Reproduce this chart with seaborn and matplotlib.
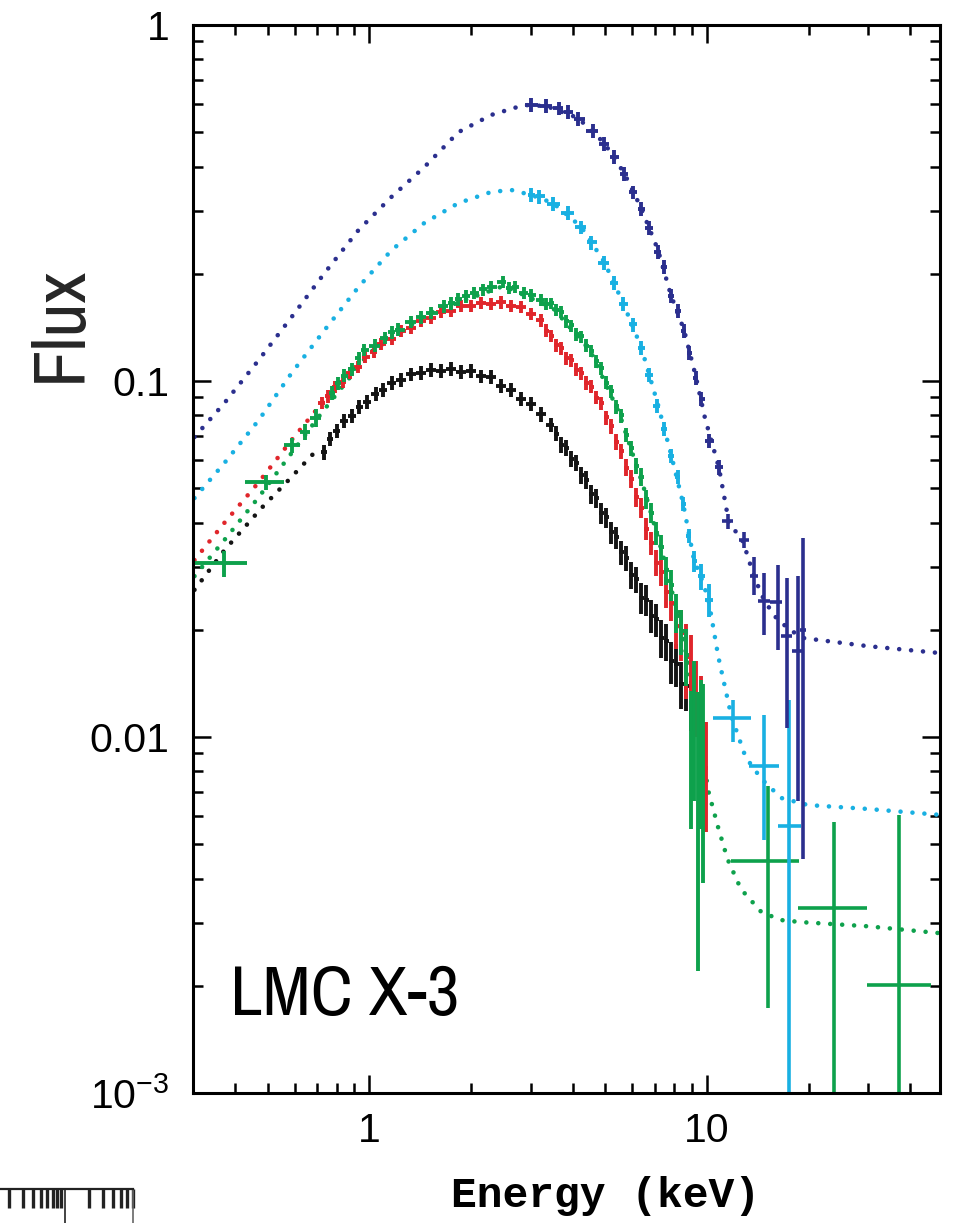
import numpy as np
import matplotlib
matplotlib.use("Agg")
import matplotlib.pyplot as plt
from matplotlib import font_manager
from matplotlib.ticker import FixedLocator, FixedFormatter, LogLocator, NullFormatter, NullLocator
import seaborn as sns

# ==========================================
# 1. MODEL CURVES (dotted lines)
# ==========================================
navy_model_E = [0.303, 0.372, 0.470, 0.588, 0.736, 0.928, 1.162, 1.454, 1.834, 2.296, 2.87,
                3.34, 4.15, 4.96, 5.68, 6.38, 7.16, 7.82, 8.55, 9.27, 9.86, 10.85, 11.6,
                12.8, 13.8, 14.8, 16.2, 19.0, 29.9, 49.3]
navy_model_F = [0.0696, 0.0868, 0.1146, 0.1513, 0.201, 0.2655, 0.329, 0.399, 0.500, 0.559, 0.596,
                0.592, 0.548, 0.466, 0.384, 0.306, 0.233, 0.174, 0.139, 0.1026, 0.0787, 0.057, 0.0402,
                0.0353, 0.0281, 0.0241, 0.0213, 0.0190, 0.0180, 0.0172]

cyan_model_E = [0.303, 0.372, 0.470, 0.588, 0.736, 0.928, 1.162, 1.454, 1.834, 2.296,
                2.632, 3.016, 3.50, 4.24, 4.96, 5.64, 6.38, 7.16, 7.83, 8.49,
                9.15, 9.60, 10.1, 10.8, 11.8, 13.0, 14.5, 16.6, 19.9, 29.9, 49.3]
cyan_model_F = [0.0469, 0.0589, 0.0777, 0.1053, 0.139, 0.1837, 0.233, 0.278, 0.316, 0.3397,
                0.344, 0.333, 0.316, 0.271, 0.216, 0.1656, 0.1246, 0.0856, 0.062, 0.0454,
                0.0314, 0.0281, 0.0243, 0.0168, 0.01146, 0.00879, 0.00762, 0.00674, 0.00644, 0.00628, 0.00604]

green_model_E = [0.303, 0.372, 0.470, 0.588, 0.721, 1.0, 1.5, 2.5, 3.5, 4.5, 5.5, 6.5, 7.5, 8.5, 9.4,
                 10.07, 10.8, 11.5, 12.6, 14.5, 16.6, 19.0, 29.9, 49.3]
green_model_F = [0.0283, 0.0358, 0.0472, 0.0628, 0.0813, 0.120, 0.155, 0.185, 0.160, 0.122, 0.081,
                 0.050, 0.031, 0.019, 0.0112, 0.0071, 0.00555, 0.00454, 0.00374, 0.00322, 0.00306,
                 0.00302, 0.00294, 0.00281]

red_model_E = [0.303, 0.372, 0.470, 0.588, 0.736]
red_model_F = [0.0314, 0.0400, 0.0520, 0.0683, 0.0885]

black_model_E = [0.303, 0.372, 0.479, 0.576, 0.707]
black_model_F = [0.0259, 0.0335, 0.0440, 0.0527, 0.0648]

# ==========================================
# 2. DATA POINTS (energy keV, flux, flux error)
# ==========================================
black_E = [0.731, 0.762, 0.799, 0.838, 0.885, 0.934, 0.986, 1.042, 1.100, 1.162,
           1.243, 1.331, 1.425, 1.525, 1.633, 1.748, 1.872, 2.004, 2.145, 2.296,
           2.458, 2.632, 2.817, 3.016, 3.228, 3.456,
           3.576, 3.698, 3.826, 3.959, 4.096, 4.239, 4.386, 4.537, 4.694, 4.858,
           5.026, 5.200, 5.380, 5.567, 5.760, 5.958, 6.166, 6.379, 6.600, 6.829,
           7.066, 7.311, 7.564, 7.826, 8.097, 8.378, 8.668, 8.970]
black_F = [0.0630, 0.0688, 0.0724, 0.0772, 0.0798, 0.0845, 0.0872, 0.0920, 0.0944, 0.0990,
           0.1005, 0.1045, 0.1052, 0.1075, 0.1066, 0.1082, 0.1060, 0.1066, 0.1030, 0.1026,
           0.0968, 0.0944, 0.0890, 0.0862, 0.0806, 0.0752,
           0.0712, 0.0662, 0.0648, 0.0604, 0.0590, 0.0545, 0.0528, 0.0480, 0.0468, 0.0425,
           0.0414, 0.0376, 0.0364, 0.0330, 0.0318, 0.0286, 0.0277, 0.0246, 0.0243, 0.0219,
           0.0214, 0.0190, 0.0186, 0.0163, 0.0160, 0.0141, 0.0139, 0.0124]
black_err = [0.0030, 0.0032, 0.0033, 0.0035, 0.0036, 0.0038, 0.0039, 0.0041, 0.0042, 0.0044,
             0.0045, 0.0046, 0.0047, 0.0048, 0.0048, 0.0048, 0.0048, 0.0048, 0.0046, 0.0046,
             0.0044, 0.0042, 0.0040, 0.0039, 0.0037, 0.0035,
             0.0035, 0.0034, 0.0033, 0.0032, 0.0031, 0.0030, 0.0030, 0.0029, 0.0028, 0.0028,
             0.0027, 0.0027, 0.0026, 0.0026, 0.0025, 0.0025, 0.0024, 0.0024, 0.0024, 0.0023,
             0.0023, 0.0023, 0.0022, 0.0022, 0.0022, 0.0021, 0.0021, 0.0020]

red_E = [0.721, 0.756, 0.793, 0.832, 0.873, 0.922, 0.973, 1.028, 1.085, 1.162,
         1.243, 1.331, 1.425, 1.525, 1.633, 1.748, 1.872, 2.004, 2.145, 2.296,
         2.458, 2.632, 2.817, 3.016,
         3.228, 3.340, 3.456, 3.576, 3.698, 3.826, 3.959, 4.096, 4.239, 4.386,
         4.537, 4.694, 4.858, 5.026, 5.200, 5.380, 5.567, 5.760, 5.958, 6.166,
         6.379, 6.600, 6.829, 7.066, 7.311, 7.564, 7.826, 8.097, 8.378, 8.668,
         8.970, 9.280, 9.600, 9.930]
red_F = [0.0868, 0.0905, 0.0962, 0.0995, 0.1052, 0.1095, 0.1168, 0.1208, 0.1270, 0.1312,
         0.1382, 0.1410, 0.1472, 0.1505, 0.1560, 0.1576, 0.1622, 0.1628, 0.1655, 0.1648,
         0.1662, 0.1628, 0.1612, 0.1545,
         0.1480, 0.1385, 0.1340, 0.1262, 0.1235, 0.1160, 0.1142, 0.1075, 0.1050, 0.0988,
         0.0965, 0.0898, 0.0866, 0.0790, 0.0746, 0.0676, 0.0634, 0.0571, 0.0532, 0.0472,
         0.0440, 0.0384, 0.0350, 0.0309, 0.0290, 0.0256, 0.0238, 0.0205, 0.0196, 0.0168,
         0.0160, 0.0132, 0.0118, 0.0082]
red_err = [0.0036, 0.0037, 0.0039, 0.0040, 0.0042, 0.0044, 0.0046, 0.0048, 0.0050, 0.0052,
           0.0054, 0.0056, 0.0058, 0.0059, 0.0061, 0.0062, 0.0063, 0.0064, 0.0065, 0.0065,
           0.0066, 0.0065, 0.0064, 0.0062,
           0.0060, 0.0057, 0.0055, 0.0053, 0.0051, 0.0049, 0.0047, 0.0045, 0.0044, 0.0042,
           0.0041, 0.0039, 0.0038, 0.0036, 0.0035, 0.0034, 0.0032, 0.0031, 0.0030, 0.0029,
           0.0028, 0.0027, 0.0026, 0.0026, 0.0025, 0.0025, 0.0026, 0.0028, 0.0032, 0.0040,
           0.0034, 0.0032, 0.0030, 0.0028]

green_E = [0.772, 0.804, 0.838, 0.885, 0.928, 0.966, 1.035, 1.108, 1.162, 1.218,
           1.331, 1.425, 1.525, 1.667, 1.748, 1.834, 1.936, 2.045, 2.175, 2.296,
           2.490, 2.596, 2.690, 2.870, 3.016,
           3.228, 3.340, 3.456, 3.576, 3.698, 3.826, 3.959, 4.096, 4.239, 4.386,
           4.537, 4.694, 4.858, 5.026, 5.200, 5.380, 5.567, 5.760, 5.958, 6.166,
           6.379, 6.600, 6.829, 7.066, 7.311, 7.564, 7.826, 8.097, 8.378, 8.668]
green_F = [0.0925, 0.0985, 0.1035, 0.1080, 0.1158, 0.1225, 0.1258, 0.1322, 0.1370, 0.1395,
           0.1468, 0.1508, 0.1556, 0.1620, 0.1652, 0.1695, 0.1728, 0.1772, 0.1808, 0.1842,
           0.1900, 0.1830, 0.1838, 0.1770, 0.1740,
           0.1690, 0.1645, 0.1652, 0.1580, 0.1560, 0.1470, 0.1432, 0.1352, 0.1334, 0.1258,
           0.1218, 0.1135, 0.1085, 0.0990, 0.0935, 0.0848, 0.0800, 0.0706, 0.0648, 0.0578,
           0.0538, 0.0466, 0.0426, 0.0374, 0.0342, 0.0294, 0.0268, 0.0224, 0.0199, 0.0170]
green_err = [0.0042, 0.0043, 0.0044, 0.0045, 0.0047, 0.0049, 0.0051, 0.0053, 0.0055, 0.0056,
             0.0058, 0.0060, 0.0062, 0.0064, 0.0065, 0.0067, 0.0068, 0.0069, 0.0070, 0.0071,
             0.0073, 0.0071, 0.0071, 0.0069, 0.0068,
             0.0066, 0.0065, 0.0064, 0.0062, 0.0060, 0.0058, 0.0056, 0.0054, 0.0052, 0.0050,
             0.0048, 0.0046, 0.0044, 0.0042, 0.0040, 0.0038, 0.0036, 0.0034, 0.0032, 0.0031,
             0.0030, 0.0029, 0.0028, 0.0028, 0.0027, 0.0027, 0.0027, 0.0028, 0.0029, 0.0031]

# wide soft bins of the green spectrum
green_soft_E = [0.370, 0.492, 0.588, 0.642, 0.692]
green_soft_Elo = [0.295, 0.427, 0.557, 0.622, 0.667]
green_soft_Ehi = [0.433, 0.560, 0.622, 0.665, 0.720]
green_soft_F = [0.0308, 0.0520, 0.0661, 0.0719, 0.0787]
green_soft_err = [0.0026, 0.0026, 0.0032, 0.0038, 0.0045]

# noisy channels just below 10 keV
green_tail_E = [8.97, 9.15, 9.405, 9.60, 9.73]
green_tail_F = [0.0095, 0.0115, 0.0078, 0.0100, 0.0090]
green_tail_err = [0.0040, 0.0049, 0.0056, 0.0045, 0.0051]

# hard X-ray bins
green_hard_E = [15.2, 23.8, 37.0]
green_hard_Elo = [11.8, 18.6, 29.7]
green_hard_Ehi = [18.7, 29.7, 46.0]
green_hard_F = [0.00449, 0.00331, 0.00201]
green_hard_Flo = [0.00173, 0.0004, 0.0004]
green_hard_Fhi = [0.00729, 0.00577, 0.00604]

cyan_E = [3.016, 3.18, 3.50, 3.88, 4.24, 4.54, 4.96, 5.31, 5.64, 6.04,
          6.38, 6.73, 7.11, 7.46, 7.83, 8.21, 8.49, 8.85, 9.15, 9.60, 10.14]
cyan_F = [0.333, 0.330, 0.314, 0.297, 0.270, 0.245, 0.215, 0.1890, 0.1650, 0.1442,
          0.1240, 0.1038, 0.0852, 0.0732, 0.0617, 0.0537, 0.0452, 0.0367, 0.0312, 0.0283, 0.0243]
cyan_err = [0.015, 0.015, 0.014, 0.013, 0.012, 0.011, 0.0097, 0.0085, 0.0074, 0.0065,
            0.0056, 0.0047, 0.0038, 0.0033, 0.0028, 0.0024, 0.0020, 0.0017, 0.0022, 0.0024, 0.0026]

cyan_hard_E = [11.9, 14.7, 17.5]
cyan_hard_Elo = [10.4, 13.3, 16.2]
cyan_hard_Ehi = [13.5, 16.3, 19.0]
cyan_hard_F = [0.0113, 0.00829, 0.00562]
cyan_hard_Flo = [0.00968, 0.00514, 0.0004]
cyan_hard_Fhi = [0.0127, 0.01153, 0.0127]

navy_E = [3.016, 3.34, 3.65, 3.88, 4.15, 4.60, 4.96, 5.31, 5.68, 6.04, 6.38,
          6.73, 7.16, 7.46, 7.83, 8.21, 8.55, 8.85, 9.28, 9.60, 10.14, 10.85]
navy_F = [0.596, 0.594, 0.583, 0.571, 0.546, 0.503, 0.463, 0.426, 0.381, 0.339, 0.304,
          0.269, 0.231, 0.209, 0.1735, 0.1570, 0.1382, 0.1198, 0.1020, 0.0890, 0.0680, 0.0572]
navy_err = [0.027, 0.027, 0.026, 0.026, 0.025, 0.023, 0.021, 0.019, 0.017, 0.015, 0.014,
            0.012, 0.0104, 0.0094, 0.0078, 0.0071, 0.0062, 0.0054, 0.0046, 0.0040, 0.0031, 0.0026]

navy_hard_E = [11.5, 12.9, 13.8, 14.7, 16.2, 17.2, 18.6, 19.2]
navy_hard_Elo = [11.1, 12.45, 13.4, 14.2, 15.4, 16.6, 17.8, 18.9]
navy_hard_Ehi = [11.9, 13.35, 14.2, 15.4, 16.7, 17.9, 19.2, 19.6]
navy_hard_F = [0.0404, 0.0358, 0.0283, 0.0241, 0.0240, 0.0192, 0.01745, 0.0200]
navy_hard_Flo = [0.0385, 0.0340, 0.0251, 0.0194, 0.0175, 0.0106, 0.00662, 0.00455]
navy_hard_Fhi = [0.0424, 0.0376, 0.0321, 0.0289, 0.0305, 0.0279, 0.0283, 0.0363]

y_ticks = [1e-3, 1e-2, 1e-1, 1.0]
y_ticklabels = ["$10^{-3}$", "0.01", "0.1", "1"]
x_ticks = [1, 10]
x_ticklabels = ["1", "10"]

NAVY = "#2b2f8e"
CYAN = "#19b0e2"
RED = "#e0262b"
GREEN = "#0ea14c"
BLACK = "#141414"

# ==========================================
# 3. STYLE
# ==========================================
sns.set_theme(style="ticks")
plt.rcParams["font.family"] = ["Liberation Sans", "DejaVu Sans"]
plt.rcParams["mathtext.fontset"] = "custom"
plt.rcParams["mathtext.rm"] = "Liberation Sans"
plt.rcParams["mathtext.it"] = "Liberation Sans:italic"
plt.rcParams["axes.edgecolor"] = "black"
plt.rcParams["xtick.color"] = "black"
plt.rcParams["ytick.color"] = "black"

# the panel text uses a narrow sans; take one if installed, else a smaller regular one
narrow = sorted({f.name for f in font_manager.fontManager.ttflist
                 if ("Narrow" in f.name or "Condensed" in f.name
                     or f.stretch in ("condensed", "semi-condensed", "extra-condensed"))
                 and "Serif" not in f.name and "Mono" not in f.name})
label_family = narrow[:1] + ["Liberation Sans", "DejaVu Sans"]
label_size = 54 if narrow else 46
label_stretch = "condensed" if narrow else "normal"


def bin_halfwidths(E, shrink=1.0):
    # channel edges = geometric midpoints between neighbouring energies
    E = np.asarray(E, float)
    mid = np.sqrt(E[1:] * E[:-1])
    lo = np.r_[E[0] ** 2 / mid[0], mid]
    hi = np.r_[mid, E[-1] ** 2 / mid[-1]]
    lo = E * (lo / E) ** shrink
    hi = E * (hi / E) ** shrink
    return [E - lo, hi - E]


fig = plt.figure(figsize=(9.58, 12.23), dpi=100)
ax = fig.add_axes([193 / 958, 1 - 1093 / 1223, (940 - 193) / 958, (1093 - 25) / 1223])
ax.set_xscale("log")
ax.set_yscale("log")

dots = dict(linestyle=(0, (0.01, 2.6)), linewidth=3.3, dash_capstyle="round")
for E, F, c in [(navy_model_E, navy_model_F, NAVY), (cyan_model_E, cyan_model_F, CYAN),
                (red_model_E, red_model_F, RED), (black_model_E, black_model_F, BLACK),
                (green_model_E, green_model_F, GREEN)]:
    sns.lineplot(x=E, y=F, ax=ax, color=c, sort=False, estimator=None, **dots)

# dense spectra
for E, F, err, c in [(black_E, black_F, black_err, BLACK), (red_E, red_F, red_err, RED),
                     (green_E, green_F, green_err, GREEN)]:
    ax.errorbar(E, F, xerr=bin_halfwidths(E), yerr=err, fmt="none", ecolor=c,
                elinewidth=2.8, capsize=0)

ax.errorbar(green_soft_E, green_soft_F,
            xerr=[np.subtract(green_soft_E, green_soft_Elo), np.subtract(green_soft_Ehi, green_soft_E)],
            yerr=green_soft_err, fmt="none", ecolor=GREEN, elinewidth=2.8, capsize=0)
ax.errorbar(green_tail_E, green_tail_F, xerr=bin_halfwidths(green_tail_E, 0.6), yerr=green_tail_err,
            fmt="none", ecolor=GREEN, elinewidth=2.8, capsize=0)

for E, F, err, c in [(cyan_E, cyan_F, cyan_err, CYAN), (navy_E, navy_F, navy_err, NAVY)]:
    ax.errorbar(E, F, xerr=bin_halfwidths(E, 0.9), yerr=err, fmt="none", ecolor=c,
                elinewidth=2.8, capsize=0)

for E, Elo, Ehi, F, Flo, Fhi, c in [
        (green_hard_E, green_hard_Elo, green_hard_Ehi, green_hard_F, green_hard_Flo, green_hard_Fhi, GREEN),
        (cyan_hard_E, cyan_hard_Elo, cyan_hard_Ehi, cyan_hard_F, cyan_hard_Flo, cyan_hard_Fhi, CYAN),
        (navy_hard_E, navy_hard_Elo, navy_hard_Ehi, navy_hard_F, navy_hard_Flo, navy_hard_Fhi, NAVY)]:
    ax.errorbar(E, F, xerr=[np.subtract(E, Elo), np.subtract(Ehi, E)],
                yerr=[np.subtract(F, Flo), np.subtract(Fhi, F)],
                fmt="none", ecolor=c, elinewidth=2.6, capsize=0)

# ==========================================
# 4. AXES
# ==========================================
ax.set_xlim(0.3, 49)
ax.set_ylim(1e-3, 1)
ax.xaxis.set_major_locator(FixedLocator(x_ticks))
ax.xaxis.set_major_formatter(FixedFormatter(x_ticklabels))
ax.yaxis.set_major_locator(FixedLocator(y_ticks))
ax.yaxis.set_major_formatter(FixedFormatter(y_ticklabels))
for axis in (ax.xaxis, ax.yaxis):
    axis.set_minor_locator(LogLocator(base=10, subs=np.arange(2, 10)))
    axis.set_minor_formatter(NullFormatter())

ax.tick_params(which="both", direction="in", top=True, right=True, color="black")
ax.tick_params(which="major", length=13, width=1.8, labelsize=29.5)
ax.tick_params(which="minor", length=7, width=1.8)
ax.tick_params(axis="y", which="major", pad=17)
ax.tick_params(axis="x", which="major", pad=14)
for sp in ax.spines.values():
    sp.set_linewidth(2.2)
    sp.set_color("black")
    sp.set_visible(True)

ax.set_ylabel("Flux", fontsize=label_size, family=label_family, fontstretch=label_stretch,
              rotation=90, ha="center", va="center")
ax.yaxis.set_label_coords(-0.178, 0.72)
ax.set_xlabel("Energy (keV)", fontsize=31, family=["Liberation Mono", "DejaVu Sans Mono"],
              fontweight="bold", va="center", color="black")
ax.xaxis.set_label_coords(0.552, -0.096)

ax.text(0.0495, 0.073, "LMC X-3", transform=ax.transAxes, fontsize=label_size - 3,
        family=label_family, fontstretch=label_stretch,
        ha="left", va="baseline", color="black")

# cropped tick strip of the neighbouring panel (bottom-left corner)
ax2 = fig.add_axes([0, 0, 133 / 958, 34 / 1223])
ax2.set_xscale("log")
ax2.set_xlim(1.54, 70.8)
ax2.set_facecolor("none")
ax2.spines["left"].set_visible(False)
ax2.spines["bottom"].set_visible(False)
ax2.spines["top"].set_linewidth(1.6)
ax2.spines["right"].set_linewidth(1.2)
ax2.spines["top"].set_color("#222222")
ax2.spines["right"].set_color("#666666")
ax2.xaxis.set_major_locator(FixedLocator([10]))
ax2.xaxis.set_minor_locator(LogLocator(base=10, subs=np.arange(2, 10)))
ax2.xaxis.set_major_formatter(NullFormatter())
ax2.xaxis.set_minor_formatter(NullFormatter())
ax2.yaxis.set_major_locator(NullLocator())
ax2.yaxis.set_minor_locator(NullLocator())
ax2.tick_params(axis="x", which="both", direction="in", top=True, bottom=False,
                labeltop=False, labelbottom=False, color="#222222")
ax2.tick_params(axis="x", which="major", length=40, width=1.2)
ax2.tick_params(axis="x", which="minor", length=14, width=2.4)

fig.savefig("out.png", dpi=100)
